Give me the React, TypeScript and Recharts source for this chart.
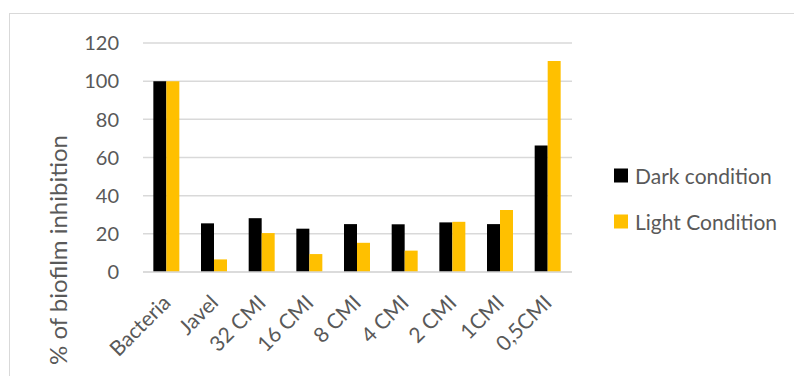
import { BarChart, Bar, XAxis, YAxis, CartesianGrid } from 'recharts'

const categories = ['Bacteria', 'Javel', '32 CMI', '16 CMI', '8 CMI', '4 CMI', '2 CMI', '1CMI', '0,5CMI']
const darkValues = [100, 25.5, 28.2, 22.7, 25.1, 25, 26, 25.1, 66.3]
const lightValues = [100, 6.6, 20.4, 9.4, 15.3, 11.2, 26.3, 32.5, 110.6]
const yTicks = [0, 20, 40, 60, 80, 100, 120]
const seriesNames = ['Dark condition', 'Light Condition']
const seriesColors = ['#000000', '#FFC000']
const yTitle = '% of biofilm inhibition'

const data = categories.map((name, i) => ({
  name,
  dark: darkValues[i],
  light: lightValues[i],
}))

const textColor = '#595959'
const font = 'Lato, "Open Sans", sans-serif'

const CategoryTick = ({ x, y, payload }: any) => {
  const tx = x + 5
  const ty = y + 32
  return (
    <text
      x={tx}
      y={ty}
      transform={`rotate(-45, ${tx}, ${ty})`}
      textAnchor="end"
      fill={textColor}
      fontSize={21}
      fontFamily={font}
    >
      {payload.value}
    </text>
  )
}

const ValueTick = ({ x, y, payload }: any) => (
  <text
    x={x}
    y={y}
    dy="0.36em"
    textAnchor="end"
    fill={textColor}
    fontSize={20}
    fontFamily={font}
  >
    {payload.value}
  </text>
)

export default function App() {
  return (
    <div
      style={{
        position: 'fixed',
        left: 0,
        top: 0,
        width: 794,
        height: 376,
        overflow: 'hidden',
        background: '#fff',
        fontFamily: font,
      }}
    >
      {/* chart frame, runs off the right and bottom edge */}
      <div
        style={{
          position: 'absolute',
          left: 9,
          top: 13,
          width: 820,
          height: 420,
          border: '1.5px solid #d9d9d9',
        }}
      />
      <BarChart
        width={794}
        height={376}
        data={data}
        margin={{ top: 43, right: 222, bottom: 44, left: 83 }}
        barCategoryGap="21.7%"
        barGap={0}
        style={{ position: 'absolute', left: 0, top: 0 }}
      >
        <CartesianGrid vertical={false} stroke="#d9d9d9" strokeWidth={1.5} />
        <XAxis
          dataKey="name"
          height={60}
          tickLine={false}
          tickSize={0}
          tickMargin={0}
          axisLine={{ stroke: '#d9d9d9', strokeWidth: 1.5 }}
          interval={0}
          tick={<CategoryTick />}
        />
        <YAxis
          width={60}
          domain={[0, 120]}
          ticks={yTicks}
          interval={0}
          axisLine={false}
          tickLine={false}
          tickSize={0}
          tickMargin={24}
          tick={<ValueTick />}
        />
        <Bar dataKey="dark" name={seriesNames[0]} fill={seriesColors[0]} isAnimationActive={false} />
        <Bar dataKey="light" name={seriesNames[1]} fill={seriesColors[1]} isAnimationActive={false} />
      </BarChart>
      <div
        style={{
          position: 'absolute',
          left: 57,
          top: 250,
          transform: 'translate(-50%, -50%) rotate(-90deg)',
          whiteSpace: 'nowrap',
          fontSize: 24,
          color: textColor,
        }}
      >
        {yTitle}
      </div>
      {seriesNames.map((name, i) => (
        <div
          key={name}
          style={{
            position: 'absolute',
            left: 614,
            top: 175 + i * 46,
            transform: 'translateY(-50%)',
            display: 'flex',
            alignItems: 'center',
            whiteSpace: 'nowrap',
            fontSize: 21,
            color: textColor,
          }}
        >
          <span style={{ width: 14, height: 14, background: seriesColors[i], marginRight: 7 }} />
          {name}
        </div>
      ))}
    </div>
  )
}
